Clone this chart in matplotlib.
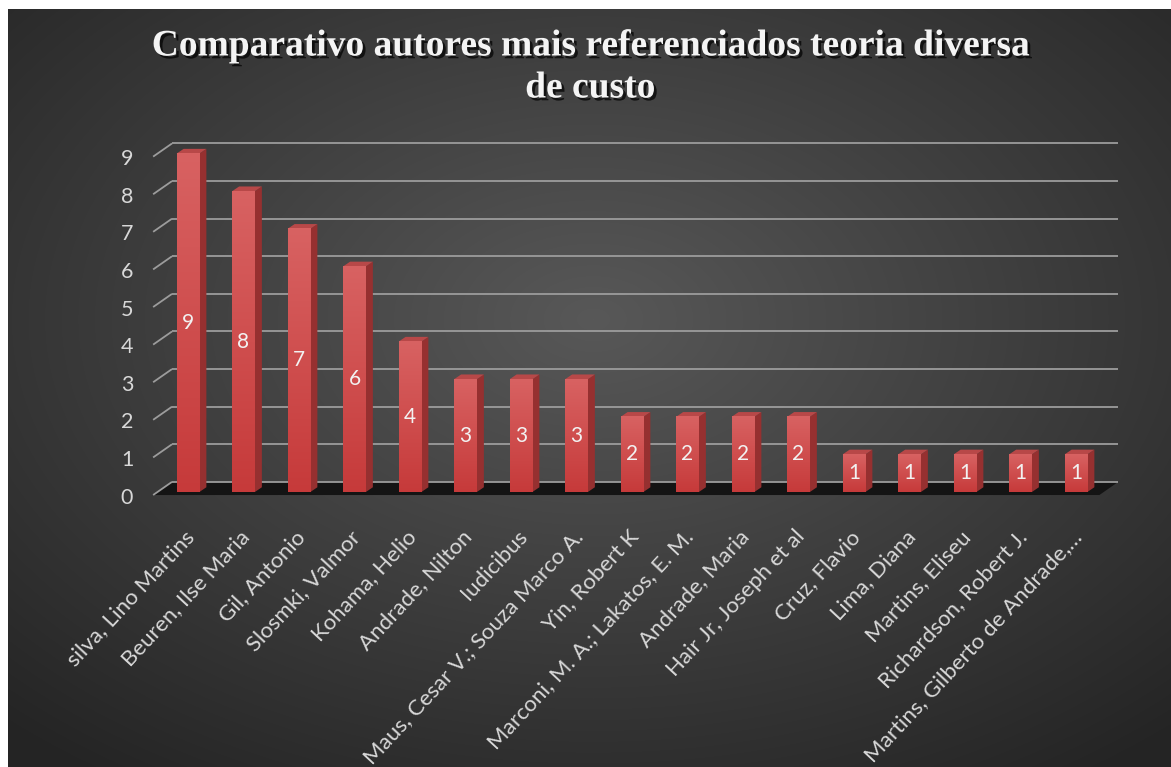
import numpy as np
import matplotlib.pyplot as plt
from matplotlib.patches import Polygon
from matplotlib.colors import LinearSegmentedColormap
import matplotlib.patheffects as pe

autores = [
    "silva, Lino Martins", "Beuren, Ilse Maria", "Gil, Antonio",
    "Slosmki, Valmor", "Kohama, Helio", "Andrade, Nilton", "Iudicibus",
    "Maus, Cesar V.; Souza Marco A.", "Yin, Robert K",
    "Marconi, M. A.; Lakatos, E. M.", "Andrade, Maria",
    "Hair Jr, Joseph et al", "Cruz, Flavio", "Lima, Diana",
    "Martins, Eliseu", "Richardson, Robert J.",
    "Martins, Gilberto de Andrade,…",
]
citacoes = [9, 8, 7, 6, 4, 3, 3, 3, 2, 2, 2, 2, 1, 1, 1, 1, 1]
escala = list(range(0, 10))
titulo = ["Comparativo autores mais referenciados teoria diversa", "de custo"]

W, H = 1171, 767
fig = plt.figure(figsize=(W / 100, H / 100), dpi=100, facecolor="white")

# dark radial background
bg = fig.add_axes([8 / W, 0, (W - 8) / W, (H - 9) / H])
bw, bh = W - 8, H - 9
yy, xx = np.mgrid[0:bh, 0:bw]
r = np.sqrt(((xx - 585) / bw) ** 2 + ((yy - 310) / bh) ** 2)
shade = np.clip(88 - 70 * r, 36, 92) / 255
bg.imshow(np.dstack([shade] * 3), aspect="auto")
bg.axis("off")

ax = fig.add_axes([0, 0, 1, 1])
ax.axis("off")

# pseudo-3d geometry (data units)
DX, DY = 0.34, 0.35          # floor depth
F = 0.23                     # bar front position inside the depth
fx, fy = -F * DX, -F * DY
bx, by = (1 - F) * DX, (1 - F) * DY
BW = 0.41                    # bar front width
BD = 0.126                   # bar depth
XL, XR = -0.55, len(autores) - 0.5

floor = Polygon([(XL + fx, fy), (XR + fx, fy), (XR + bx, by), (XL + bx, by)],
                closed=True, facecolor="#141414", edgecolor="none", zorder=1)
ax.add_patch(floor)

grid_kw = dict(color="#9c9c9c", lw=1.3, zorder=2, solid_capstyle="butt")
for v in escala:
    ax.plot([XL + bx, XR + bx], [v + by, v + by], **grid_kw)
    ax.plot([XL + fx, XL + bx], [v + fy, v + by], **grid_kw)
    ax.text(XL + fx - 0.47, v + fy - 0.07, str(v), ha="center", va="center",
            color="#d8d8d8", fontsize=15.5, family="Lato")

x = np.arange(len(autores))
bars = ax.bar(x, citacoes, width=BW, color="#cc4646", zorder=3)

red_grad = LinearSegmentedColormap.from_list("red_grad", ["#c63a3a", "#d86262"])
ramp = np.linspace(0, 1, 256).reshape(-1, 1)
for xi, v, b in zip(x, citacoes, bars):
    x0, x1 = xi - BW / 2, xi + BW / 2
    ax.imshow(ramp, cmap=red_grad, origin="lower", aspect="auto",
              extent=(x0, x1, 0, v), zorder=3.1)
    side = Polygon([(x1, 0), (x1 + BD, BD), (x1 + BD, v + BD), (x1, v)],
                   closed=True, facecolor="#963030", edgecolor="none", zorder=3)
    top = Polygon([(x0, v), (x1, v), (x1 + BD, v + BD), (x0 + BD, v + BD)],
                  closed=True, facecolor="#b84848", edgecolor="none", zorder=3)
    ax.add_patch(side)
    ax.add_patch(top)
    ax.text(xi, v / 2, str(v), ha="center", va="center", color="#f2f2f2",
            fontsize=15, family="Lato", zorder=5)

for xi, nome in zip(x, autores):
    ax.text(xi - 0.08, -0.92, nome, rotation=47, rotation_mode="anchor",
            ha="right", va="top", color="#d8d8d8", fontsize=16, family="Lato")

ax.set_xlim(-188 / 55.5, (W - 188) / 55.5)
ax.set_ylim((492 - H) / 37.6, 492 / 37.6)

shadow = [pe.withSimplePatchShadow(offset=(2, -2), shadow_rgbFace="black", alpha=0.7)]
for k, linha in enumerate(titulo):
    fig.text(0.504, 1 - (46 + 42 * k) / H, linha, ha="center", va="center",
             color="#f4f4f4", fontsize=27, fontweight="bold",
             family="Liberation Serif", path_effects=shadow)

fig.savefig("out.png", dpi=100, facecolor=fig.get_facecolor())
